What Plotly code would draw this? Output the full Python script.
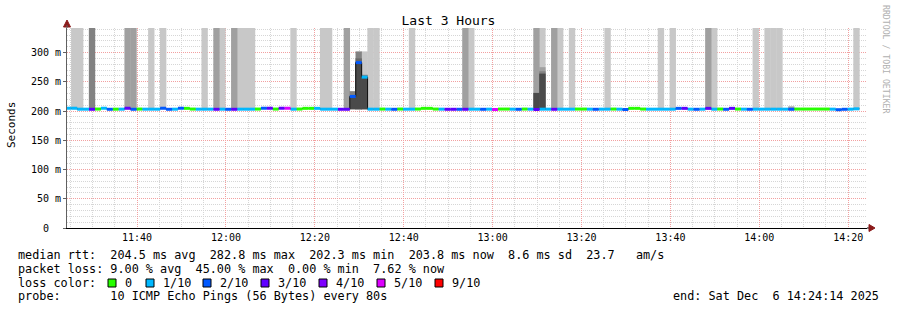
import pandas as pd
import plotly.graph_objects as go

# ---------------- data ----------------
FIRST_STEP = "2025-12-06 11:23:52"
STEP_SECONDS = 80
X_START = "2025-12-06 11:24:14"
X_END = "2025-12-06 14:24:14"

median_ms = [
    204.8, 204.8, 203.2, 203.2, 203.0, 203.4, 204.8, 203.0, 203.2, 203.2,
    204.8, 203.0, 203.4, 203.2, 203.2, 203.2, 204.8, 203.0, 203.2, 204.8,
    204.6, 203.4, 203.2, 203.2, 203.2, 203.0, 203.2, 203.0, 203.0, 203.2,
    203.2, 203.2, 203.4, 204.8, 204.8, 203.4, 204.8, 204.8, 203.2, 203.4,
    204.6, 204.6, 204.6, 203.2, 203.2, 203.2, 203.0, 203.0, 225.0, 282.8,
    258.0, 203.2, 203.2, 203.4, 203.2, 203.0, 203.4, 203.2, 203.2, 203.4,
    204.6, 204.6, 203.4, 203.2, 203.0, 203.0, 203.0, 203.0, 203.2, 203.2,
    203.0, 203.2, 202.6, 203.4, 203.4, 203.2, 203.0, 203.4, 203.2, 202.6,
    203.2, 203.2, 203.0, 203.2, 203.2, 203.2, 203.4, 203.4, 203.2, 203.0,
    203.2, 203.2, 203.4, 203.2, 202.6, 204.6, 204.6, 203.4, 203.2, 203.2,
    203.2, 203.2, 203.2, 204.6, 204.6, 203.2, 203.0, 203.2, 204.6, 203.2,
    203.4, 203.0, 204.6, 203.4, 203.2, 203.0, 203.2, 203.2, 203.2, 203.2,
    203.2, 203.2, 203.0, 203.4, 203.4, 203.4, 203.4, 203.4, 203.4, 203.2,
    202.3, 203.0, 203.2, 203.8,
]

loss_count = [
    1, 1, 1, 1, 3, 0, 1, 2, 0, 1,
    3, 2, 0, 1, 1, 1, 2, 2, 1, 2,
    0, 0, 1, 1, 1, 3, 1, 2, 3, 1,
    1, 1, 0, 2, 3, 0, 3, 5, 1, 0,
    0, 0, 1, 1, 1, 1, 3, 3, 2, 2,
    1, 1, 1, 0, 1, 2, 0, 1, 1, 0,
    0, 0, 0, 1, 3, 3, 2, 3, 1, 1,
    2, 1, 5, 0, 0, 1, 2, 0, 1, 3,
    1, 1, 3, 1, 1, 1, 0, 0, 1, 2,
    1, 1, 0, 1, 2, 0, 0, 0, 1, 1,
    1, 1, 1, 2, 3, 1, 2, 1, 3, 1,
    0, 2, 3, 0, 1, 2, 1, 1, 1, 1,
    1, 1, 2, 0, 0, 0, 0, 0, 0, 1,
    2, 2, 1, 1,
]

loss_legend_labels = ["0", "1/10", "2/10", "3/10", "4/10", "5/10", "9/10"]
loss_legend_counts = [0, 1, 2, 3, 4, 5, 9]
loss_colors = ["#26ff00", "#00b8ff", "#0059ff", "#5e00ff", "#7e00ff", "#dd00ff", "#ff0000"]

SMOKE_BASE = 203.0
OFF_TOP = 360.0

smoke_light_steps = [1, 2, 14, 16, 23, 26, 29, 30, 31, 38, 43, 44, 50, 51, 52, 58,
                     68, 80, 83, 85, 91, 100, 102, 109, 116, 118, 119, 120, 133]
smoke_light_top = [OFF_TOP] * 12 + [302.0] + [OFF_TOP] * 16

smoke_mid_steps = [10, 11, 25, 28, 47, 67, 79, 80, 82, 108, 122]
smoke_mid_top = [OFF_TOP, OFF_TOP, OFF_TOP, OFF_TOP, OFF_TOP, OFF_TOP, OFF_TOP, 275.0,
                 OFF_TOP, OFF_TOP, 208.0]

smoke_dark_steps = [4, 48, 49, 50, 80]
smoke_dark_top = [OFF_TOP, 234.0, 302.0, 262.0, 268.0]

smoke_darker_steps = [49]
smoke_darker_top = [290.0]

smoke_darkest_steps = [48, 49, 50, 79, 80]
smoke_darkest_top = [225.0, 282.8, 258.0, 231.0, 264.0]

y_tick_values = [0, 50, 100, 150, 200, 250, 300]
y_tick_text = ["0  ", "50 m", "100 m", "150 m", "200 m", "250 m", "300 m"]

title_text = "Last 3 Hours"
y_title = "Seconds"
stat_line_1 = "median rtt:  204.5 ms avg  282.8 ms max  202.3 ms min  203.8 ms now  8.6 ms sd  23.7   am/s"
stat_line_2 = "packet loss: 9.00 % avg  45.00 % max  0.00 % min  7.62 % now"
stat_line_3 = "loss color:"
stat_line_4 = "probe:       10 ICMP Echo Pings (56 Bytes) every 80s"
end_text = "end: Sat Dec  6 14:24:14 2025"
side_text = "RRDTOOL / TOBI OETIKER"

# ---------------- geometry helpers ----------------
W, H = 897, 310
ML, MR, MT, MB = 67, 30, 28, 82
PW, PH = W - ML - MR, H - MT - MB
MONO = "DejaVu Sans Mono"


def px(x):
    return (x - ML) / PW


def py(y):
    return (MT + PH - y) / PH


def nb(s):
    return s.replace(" ", "\u00a0")


n = len(median_ms)
starts = pd.date_range(FIRST_STEP, periods=n, freq=f"{STEP_SECONDS}s")
half = pd.Timedelta(seconds=STEP_SECONDS / 2)
centers = starts + half
ends = starts + pd.Timedelta(seconds=STEP_SECONDS)

fig = go.Figure()


def smoke(steps, tops, color):
    fig.add_trace(go.Bar(
        x=[centers[i] for i in steps],
        y=[t - SMOKE_BASE for t in tops],
        base=[SMOKE_BASE] * len(steps),
        width=STEP_SECONDS * 1000 + 6000,
        marker=dict(color=color, line=dict(width=0)),
        hoverinfo="skip", showlegend=False,
    ))


smoke(smoke_light_steps, smoke_light_top, "#c8c8c8")
smoke(smoke_mid_steps, smoke_mid_top, "#a0a0a0")
smoke(smoke_dark_steps, smoke_dark_top, "#828282")
smoke(smoke_darker_steps, smoke_darker_top, "#686868")
smoke(smoke_darkest_steps, smoke_darkest_top, "#4a4a4a")

# thin median step line
fig.add_trace(go.Scatter(
    x=list(starts) + [ends[-1]], y=median_ms + [median_ms[-1]],
    mode="lines", line=dict(color="#101010", width=1, shape="hv"),
    hoverinfo="skip", showlegend=False,
))

# loss coloured median segments
color_of = dict(zip(loss_legend_counts, loss_colors))
for cnt in sorted(set(loss_count)):
    xs, ys = [], []
    for i in range(n):
        if loss_count[i] == cnt:
            xs += [starts[i], ends[i], None]
            ys += [median_ms[i], median_ms[i], None]
    fig.add_trace(go.Scatter(
        x=xs, y=ys, mode="lines",
        line=dict(color=color_of.get(cnt, "#ff0000"), width=3),
        hoverinfo="skip", showlegend=False, connectgaps=False,
    ))

fig.update_layout(
    width=W, height=H,
    margin=dict(l=ML, r=MR, t=MT, b=MB, pad=0),
    paper_bgcolor="white", plot_bgcolor="white",
    barmode="overlay", showlegend=False,
    font=dict(family=MONO, size=10, color="#000000"),
    title=dict(text=title_text, x=0.5, xref="container", xanchor="center",
               y=1 - 20 / H, yref="container", yanchor="middle",
               font=dict(family=MONO, size=13, color="#000000")),
    xaxis=dict(
        type="date", range=[X_START, X_END],
        tick0="2025-12-06 11:40:00", dtick=20 * 60 * 1000, tickformat="%H:%M",
        showgrid=True, gridcolor="#f2a0a0", griddash="1px,1px", gridwidth=1,
        minor=dict(dtick=5 * 60 * 1000, tick0="2025-12-06 11:40:00", showgrid=True,
                   gridcolor="#d6d6d6", griddash="1px,1px", gridwidth=1),
        showline=True, linecolor="#000000", linewidth=1,
        ticks="", zeroline=False, fixedrange=True,
        tickfont=dict(family=MONO, size=10, color="#000000"),
    ),
    yaxis=dict(
        range=[0, 342], tickvals=y_tick_values, ticktext=[nb(t) for t in y_tick_text],
        showgrid=True, gridcolor="#f2a0a0", griddash="1px,1px", gridwidth=1,
        minor=dict(dtick=10, tick0=0, showgrid=True, gridcolor="#d6d6d6",
                   griddash="1px,1px", gridwidth=1),
        showline=True, linecolor="#606060", linewidth=1,
        ticks="outside", ticklen=3, tickcolor="#606060",
        zeroline=False, fixedrange=True,
        tickfont=dict(family=MONO, size=10, color="#000000"),
    ),
)

ann = []
ann.append(dict(text=nb(y_title), x=px(11), y=py(125), xref="paper", yref="paper",
                showarrow=False, textangle=-90, xanchor="center", yanchor="middle",
                font=dict(family=MONO, size=11, color="#000000")))
ann.append(dict(text=nb(side_text), x=px(886), y=py(59), xref="paper", yref="paper",
                showarrow=False, textangle=90, xanchor="center", yanchor="middle",
                font=dict(family=MONO, size=8.2, color="#b0b0b0")))
LEG_FONT = dict(family=MONO, size=11.8, color="#000000")
for txt, yy in [(stat_line_1, 255), (stat_line_2, 268.5), (stat_line_3, 282.5), (stat_line_4, 296)]:
    ann.append(dict(text=nb(txt), x=px(16), y=py(yy), xref="paper", yref="paper",
                    showarrow=False, xanchor="left", yanchor="middle", font=LEG_FONT))
ann.append(dict(text=nb(end_text), x=px(881), y=py(296), xref="paper", yref="paper",
                showarrow=False, xanchor="right", yanchor="middle", font=LEG_FONT))

square_x = [108, 146, 203, 261, 319, 377, 435]
shapes = []
for sx, lab, col in zip(square_x, loss_legend_labels, loss_colors):
    shapes.append(dict(type="rect", xref="paper", yref="paper",
                       x0=px(sx), x1=px(sx + 8), y0=py(287), y1=py(279),
                       fillcolor=col, line=dict(color="#000000", width=1)))
    ann.append(dict(text=lab, x=px(sx + 15), y=py(282.5), xref="paper", yref="paper",
                    showarrow=False, xanchor="left", yanchor="middle", font=LEG_FONT))

# axis arrows
shapes.append(dict(type="path", xref="paper", yref="paper",
                   path=f"M {px(63.5)},{py(27)} L {px(70.5)},{py(27)} L {px(67)},{py(20)} Z",
                   fillcolor="#8b1a1a", line=dict(color="#8b1a1a", width=1)))
shapes.append(dict(type="line", xref="paper", yref="paper",
                   x0=px(67), x1=px(67), y0=py(28), y1=py(25),
                   line=dict(color="#606060", width=1)))
shapes.append(dict(type="line", xref="paper", yref="paper",
                   x0=px(867), x1=px(870), y0=py(228), y1=py(228),
                   line=dict(color="#000000", width=1)))
shapes.append(dict(type="path", xref="paper", yref="paper",
                   path=f"M {px(869)},{py(224.5)} L {px(869)},{py(231.5)} L {px(875)},{py(228)} Z",
                   fillcolor="#8b1a1a", line=dict(color="#8b1a1a", width=1)))

fig.update_layout(annotations=ann, shapes=shapes)
fig.write_html("out.html")
